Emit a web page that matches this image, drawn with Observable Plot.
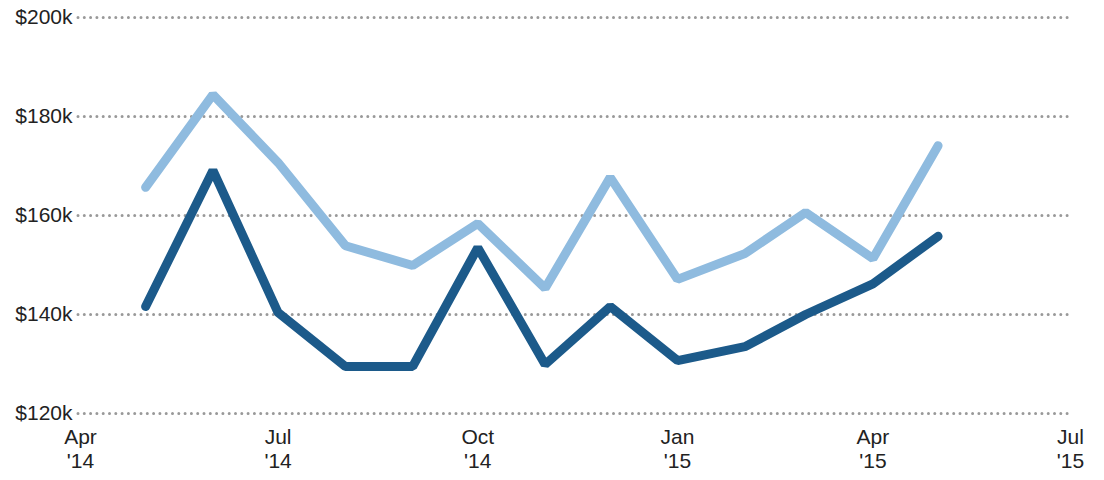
<!DOCTYPE html>
<html>
<head>
<meta charset="utf-8">
<script src="https://cdn.jsdelivr.net/npm/d3@7"></script>
<script src="https://cdn.jsdelivr.net/npm/@observablehq/plot@0.6"></script>
<style>
  body { margin: 0; background: #fff; }
  #chart svg { font-family: "Liberation Sans", Arial, sans-serif; }
</style>
</head>
<body>
<div id="chart"></div>
<script>
// monthly values ($k), May 2014 - May 2015
const months = ["2014-05", "2014-06", "2014-07", "2014-08", "2014-09", "2014-10", "2014-11",
  "2014-12", "2015-01", "2015-02", "2015-03", "2015-04", "2015-05"];
const lightValues = [165.7, 184.4, 170.7, 153.9, 149.9, 158.4, 145.3, 167.7, 147.1, 152.3, 160.6, 151.3, 174.1];
const darkValues = [141.6, 169.1, 140.4, 129.5, 129.5, 153.5, 129.9, 141.6, 130.7, 133.5, 140.0, 146.2, 155.8];
const yTicks = [120000, 140000, 160000, 180000, 200000];
const xTicks = ["2014-04", "2014-07", "2014-10", "2015-01", "2015-04", "2015-07"];

const parse = d3.utcParse("%Y-%m");
const monthNames = ["Jan", "Feb", "Mar", "Apr", "May", "Jun", "Jul", "Aug", "Sep", "Oct", "Nov", "Dec"];
const fmtX = d => `${monthNames[d.getUTCMonth()]}\n'${String(d.getUTCFullYear()).slice(2)}`;
const fmtY = d => `$${d / 1000}k`;

const data = [
  ...months.map((m, i) => ({date: parse(m), value: lightValues[i] * 1000, series: "light"})),
  ...months.map((m, i) => ({date: parse(m), value: darkValues[i] * 1000, series: "dark"}))
];

const chart = Plot.plot({
  width: 1104,
  height: 480,
  marginLeft: 80,
  marginRight: 34,
  marginTop: 17,
  marginBottom: 67,
  x: {type: "utc", domain: [parse("2014-04"), parse("2015-07")]},
  y: {domain: [120000, 200000]},
  color: {domain: ["light", "dark"], range: ["#8fbbdf", "#1c5a8a"]},
  marks: [
    // dotted gridlines
    Plot.ruleY(yTicks, {stroke: "#999", strokeWidth: 3, strokeLinecap: "round", strokeDasharray: "0,6.3",
      insetLeft: -2, insetRight: -3}),
    Plot.line(data, {
      x: "date", y: "value", z: "series", stroke: "series",
      strokeWidth: 9, strokeLinecap: "round", strokeLinejoin: "miter"
    }),
    Plot.axisX({ticks: xTicks.map(parse), tickFormat: fmtX, tickSize: 0, tickPadding: 13,
      lineHeight: 1.15, fontSize: 21, label: null, fill: "#222"}),
    Plot.axisY({ticks: yTicks, tickFormat: fmtY, tickSize: 0, tickPadding: 8,
      fontSize: 21, label: null, fill: "#222"})
  ]
});
document.getElementById("chart").append(chart);
</script>
</body>
</html>
